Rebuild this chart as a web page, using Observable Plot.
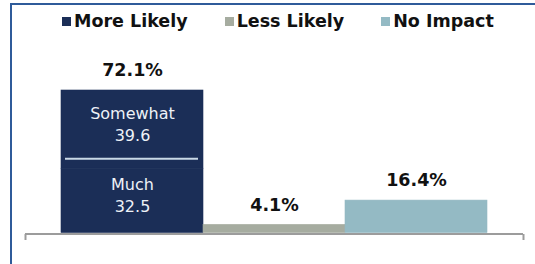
<!DOCTYPE html>
<html>
<head>
<meta charset="utf-8">
<script src="https://cdn.jsdelivr.net/npm/d3@7"></script>
<script src="https://cdn.jsdelivr.net/npm/@observablehq/plot@0.6"></script>
<style>
  html, body { margin: 0; padding: 0; background: #fff; }
  #wrap { position: relative; width: 535px; height: 264px; overflow: hidden; font-family: "DejaVu Sans", sans-serif; }
  #border { position: absolute; left: 10px; top: 3px; right: -5px; bottom: -5px; border-top: 2px solid #2f5b9a; border-left: 2px solid #2f5b9a; pointer-events: none; }
  #legend { height: 36px; display: flex; align-items: center; padding-left: 62px; padding-top: 6px; box-sizing: border-box; }
  .item { display: flex; align-items: center; margin-right: 37px; font-weight: bold; font-size: 17.5px; color: #111; }
  .sw { width: 9px; height: 9px; margin-right: 3px; margin-top: 1px; }
  svg { display: block; }
</style>
</head>
<body>
<div id="wrap"><div id="border"></div><div id="legend"></div><div id="chart"></div></div>
<script>
const categories = ["More Likely", "Less Likely", "No Impact"];
const colors = ["#1b2e57", "#a6aca0", "#94bac4"];
const totals = [72.1, 4.1, 16.4];
// breakdown of "More Likely"
const subLabels = ["Much", "Somewhat"];
const subValues = [32.5, 39.6];

const segments = [
  {cat: "More Likely", part: subLabels[0], value: subValues[0]},
  {cat: "More Likely", part: subLabels[1], value: subValues[1]},
  {cat: "Less Likely", part: null, value: totals[1]},
  {cat: "No Impact", part: null, value: totals[2]}
];
const totalRows = categories.map((c, i) => ({cat: c, value: totals[i]}));

// legend
const legend = document.getElementById("legend");
categories.forEach((c, i) => {
  const it = document.createElement("div");
  it.className = "item";
  it.innerHTML = `<span class="sw" style="background:${colors[i]}"></span><span>${c}</span>`;
  legend.appendChild(it);
});

const endTick = {draw(ctx) { ctx.moveTo(0, 0); ctx.lineTo(0, 6); }};

const chart = Plot.plot({
  width: 535,
  height: 228,
  marginLeft: 25,
  marginRight: 12,
  marginTop: 54,
  marginBottom: 31.5,
  x: {domain: categories, paddingInner: 0, paddingOuter: 0.245, axis: null},
  y: {domain: [0, 72.1], axis: null},
  color: {domain: categories, range: colors},
  style: {fontFamily: "DejaVu Sans, sans-serif", background: "transparent"},
  marks: [
    Plot.barY(segments, Plot.stackY({x: "cat", y: "value", fill: "cat", stroke: "cat", strokeWidth: 0.6})),
    // divider between Much and Somewhat
    Plot.ruleY([subValues[0]], {
      x1: () => "More Likely", x2: () => "More Likely",
      stroke: "#c9d9e6", strokeWidth: 2, dy: -10, insetLeft: 4, insetRight: 5
    }),
    Plot.text(segments.filter(d => d.part), Plot.stackY({
      x: "cat", y: "value",
      text: d => `${d.part}\n${d.value.toFixed(1)}`,
      fill: "#eef2f7", fontSize: 16, lineHeight: 1.4, dy: -7
    })),
    Plot.ruleY([0], {stroke: "#9c9c9c", strokeWidth: 2, dy: 1}),
    Plot.dot([0], {frameAnchor: "bottom-left", symbol: endTick, stroke: "#9c9c9c", strokeWidth: 2, dy: 1}),
    Plot.dot([0], {frameAnchor: "bottom-right", symbol: endTick, stroke: "#9c9c9c", strokeWidth: 2, dy: 1}),
    Plot.text(totalRows, {
      x: "cat", y: "value", text: d => `${d.value.toFixed(1)}%`,
      fontWeight: "bold", fontSize: 17.5, fill: "#111", dy: -20
    })
  ]
});
document.getElementById("chart").appendChild(chart);
</script>
</body>
</html>
